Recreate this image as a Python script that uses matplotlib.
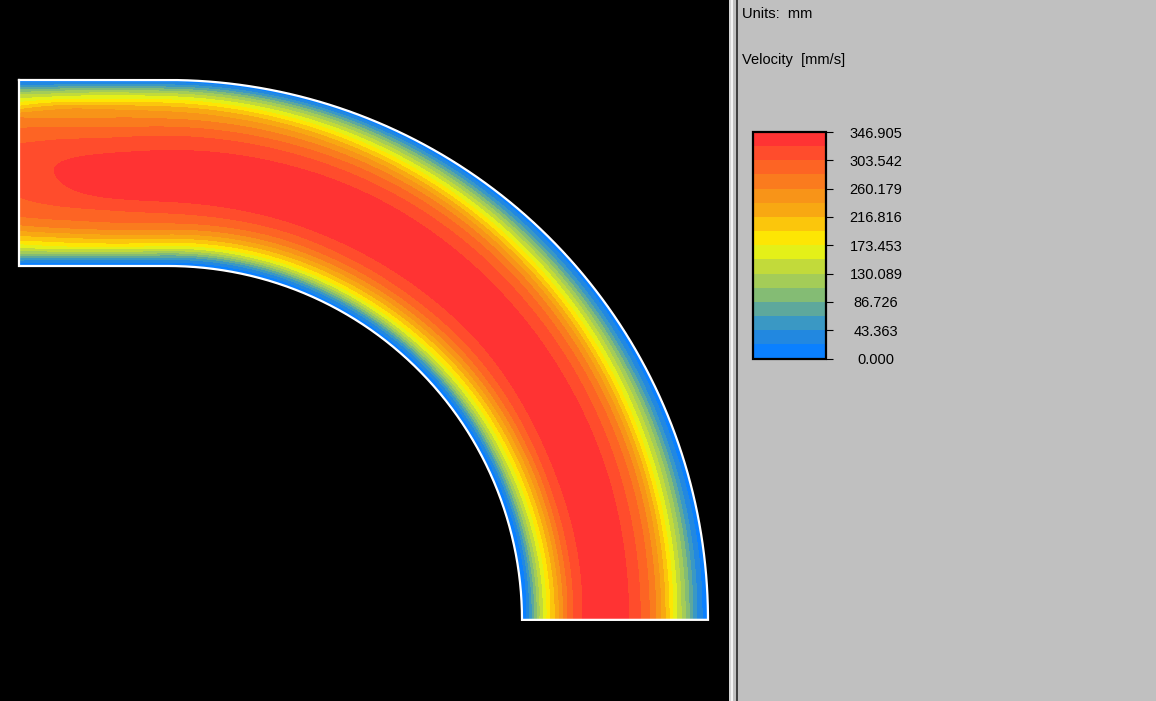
import numpy as np
import matplotlib
matplotlib.use("Agg")
import matplotlib.pyplot as plt
import matplotlib.tri as mtri
from matplotlib.colors import ListedColormap, BoundaryNorm
from matplotlib.patches import Rectangle

# ---------------- data ----------------
units_label = "Units:  mm"
quantity_label = "Velocity  [mm/s]"
v_max = 346.905
tick_values = [0.0, 43.363, 86.726, 130.089, 173.453, 216.816, 260.179, 303.542, 346.905]
tick_labels = ["0.000", "43.363", "86.726", "130.089", "173.453",
               "216.816", "260.179", "303.542", "346.905"]
band_colors = ["#0a80ff", "#2288e0", "#3a98c4", "#5ea89c", "#84bc74", "#a4cc58",
               "#c2da3a", "#e4f018", "#fde604", "#fbc60c", "#f8a812", "#f89418",
               "#fa7b1e", "#fd6424", "#ff4c2c", "#ff3333"]

# stations along the pipe centreline (px); negative = straight inlet part
station_s = [-149, -110, -60, 0, 156, 351, 546, 702]
# across the pipe: 0 = inner wall, 1 = outer wall
across_n = [0, 0.03, 0.06, 0.1, 0.15, 0.2, 0.27, 0.35, 0.45, 0.55, 0.65,
            0.73, 0.8, 0.85, 0.9, 0.94, 0.97, 1.0]
profile_inlet = [0, 40, 95, 150, 205, 245, 283, 300, 312, 315, 305, 284, 258, 205, 152, 100, 45, 0]
profile_x58 = [0, 38, 92, 162, 212, 255, 288, 310, 324, 325, 310, 287, 258, 230, 165, 108, 50, 0]
profile_x108 = [0, 35, 90, 165, 220, 262, 293, 320, 338, 335, 314, 288, 258, 230, 170, 115, 55, 0]
profile_bend0 = [0, 35, 88, 160, 218, 262, 298, 326, 342, 338, 318, 290, 255, 222, 165, 108, 50, 0]
profile_bend20 = [0, 33, 85, 155, 212, 256, 300, 330, 343, 340, 318, 285, 240, 195, 140, 88, 42, 0]
profile_bend45 = [0, 30, 82, 150, 205, 250, 298, 328, 342, 338, 312, 275, 220, 170, 115, 65, 30, 0]
profile_bend70 = [0, 28, 78, 140, 196, 243, 300, 331, 342, 334, 303, 260, 195, 145, 95, 50, 23, 0]
profile_outlet = [0, 27, 75, 135, 190, 238, 300, 332, 342, 332, 298, 252, 185, 135, 85, 43, 20, 0]
profiles = [profile_inlet, profile_x58, profile_x108, profile_bend0,
            profile_bend20, profile_bend45, profile_bend70, profile_outlet]

# ---------------- geometry (pixels) ----------------
W, H = 1156, 701
CX, CY = 168.0, 620.0
R_IN, R_OUT = 354.0, 540.0
R_MID = 0.5 * (R_IN + R_OUT)


def to_xy(s, n):
    s = np.asarray(s, float)
    n = np.asarray(n, float)
    r = R_IN + (R_OUT - R_IN) * n
    th = np.clip(s, 0, None) / R_MID
    phi = np.pi / 2 - th
    x = np.where(s < 0, CX + s, CX + r * np.cos(phi))
    y = np.where(s < 0, CY - r, CY - r * np.sin(phi))
    return x, y


fig = plt.figure(figsize=(W / 100, H / 100), dpi=100, facecolor="#c0c0c0")

# overlay for separator and labels (pixel coordinates)
ov = fig.add_axes([0, 0, 1, 1], zorder=-1)
ov.set_xlim(0, W)
ov.set_ylim(H, 0)
ov.axis("off")
for x0, w, c in [(729, 2, "#d4d4d4"), (731, 2, "#f4f4f4"), (733, 3, "#c0c0c0"),
                 (736, 2, "#404040"), (738, W - 738, "#c0c0c0")]:
    ov.add_patch(Rectangle((x0, 0), w, H, facecolor=c, edgecolor="none"))
ov.text(742, 18, units_label, fontsize=10.5, family="Liberation Sans", va="baseline", ha="left")
ov.text(742, 64, quantity_label, fontsize=10.5, family="Liberation Sans", va="baseline", ha="left")

# main black plot area
ax = fig.add_axes([0, 0, 729 / W, 1])
ax.set_facecolor("black")
ax.set_xlim(0, 729)
ax.set_ylim(H, 0)
ax.set_xticks([])
ax.set_yticks([])
for sp in ax.spines.values():
    sp.set_visible(False)

S, N = np.meshgrid(np.array(station_s, float), np.array(across_n, float), indexing="ij")
V = np.array(profiles, float)
tri = mtri.Triangulation(S.ravel() / 185.0, N.ravel())
interp = mtri.CubicTriInterpolator(tri, V.ravel(), kind="min_E")

s_f = np.linspace(station_s[0], station_s[-1], 500)
n_f = np.linspace(0, 1, 160)
SF, NF = np.meshgrid(s_f, n_f, indexing="ij")
ZF = interp(SF / 185.0, NF)
ZF = np.clip(np.ma.filled(ZF, 0), 0, v_max * 0.9999)
XF, YF = to_xy(SF, NF)

levels = np.linspace(0, v_max, 17)
cmap = ListedColormap(band_colors)
norm = BoundaryNorm(levels, cmap.N)
cs = ax.contourf(XF, YF, ZF, levels=levels, cmap=cmap, norm=norm, antialiased=False)

# white outline of the pipe
xo, yo = to_xy(s_f, np.ones_like(s_f))
xi, yi = to_xy(s_f[::-1], np.zeros_like(s_f))
bx = np.concatenate([xo, xi, xo[:1]])
by = np.concatenate([yo, yi, yo[:1]])
ax.plot(bx, by, color="white", lw=1.6, solid_joinstyle="miter")

# colour bar
cax = fig.add_axes([753 / W, (H - 358.5) / H, 72.5 / W, 226.5 / H])
cb = fig.colorbar(cs, cax=cax, ticks=tick_values)
cb.set_ticklabels(tick_labels)
cb.outline.set_linewidth(1.6)
cb.outline.set_edgecolor("black")
cax.tick_params(axis="y", length=5, width=0.8, color="black", direction="out",
                pad=31.3, labelsize=10.5)
for lab in cax.get_yticklabels():
    lab.set_horizontalalignment("center")
    lab.set_family("Liberation Sans")
cax.minorticks_off()

fig.savefig("out.png", dpi=100, facecolor=fig.get_facecolor())
